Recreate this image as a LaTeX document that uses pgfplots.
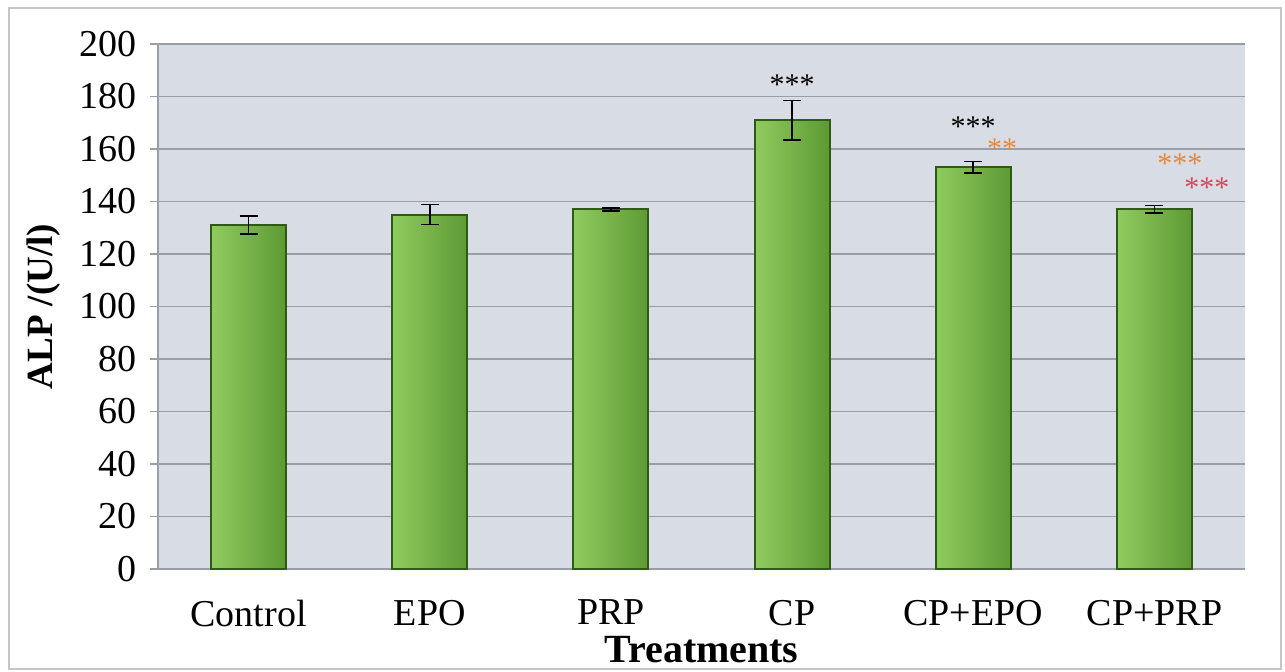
\documentclass[border=0pt]{standalone}
\usepackage{fontspec}
\setmainfont{Liberation Serif}
\usepackage{pgfplots}
\pgfplotsset{compat=1.18}
\definecolor{bgc}{HTML}{D8DCE5}
\definecolor{gridc}{HTML}{9A9EA6}
\definecolor{barL}{HTML}{8FCB5E}
\definecolor{barR}{HTML}{5E9A34}
\definecolor{barE}{HTML}{2E5A14}
\definecolor{orng}{HTML}{E8883A}
\definecolor{pinkr}{HTML}{D9475A}
\pgfplotsset{greenbar/.style={ybar, bar width=37.5pt, bar shift=0pt, draw=barE, line width=1pt,
  left color=barL, right color=barR,
  error bars/.cd, y dir=both, y explicit,
  error bar style={black, line width=0.8pt},
  error mark options={black, rotate=90, mark size=4.5pt, line width=0.8pt}}}
\tikzset{stars/.style={font=\fontsize{15}{15}\selectfont, inner sep=0pt, text height=7pt, text depth=0pt}}
\begin{document}
\begin{tikzpicture}[x=0.5pt,y=0.5pt]
\path[use as bounding box] (0,0) rectangle (1285,672);
\draw[gray!45, line width=1.2pt] (9,3) rectangle (1281,664);
\begin{axis}[
  at={(79pt,51.5pt)}, anchor=south west,
  width=543.5pt, height=262.5pt, scale only axis,
  xmin=-0.5, xmax=5.5, ymin=0, ymax=200,
  ytick={0,20,40,60,80,100,120,140,160,180,200},
  yticklabels={0,20,40,60,80,100,120,140,160,180,200},
  xtick={0,1,2,3,4,5},
  xticklabels={Control,EPO,PRP,CP,CP+EPO,CP+PRP},
  axis background/.style={fill=bgc},
  axis x line*=bottom, axis y line*=left,
  axis line style={gridc, line width=0.8pt, -},
  ymajorgrids, grid style={gridc, line width=0.8pt},
  x tick style={draw=none},
  y tick style={gridc, line width=0.8pt},
  tick align=outside, major tick length=4pt,
  ticklabel style={font=\fontsize{19}{19}\selectfont},
  yticklabel style={xshift=-3pt},
  xticklabel style={yshift=-8pt},
  ylabel={\bfseries ALP /(U/l)},
  ylabel style={font=\fontsize{18.5}{18.5}\selectfont, yshift=3pt},
  xlabel={\bfseries Treatments},
  xlabel style={font=\fontsize{20}{20}\selectfont, yshift=2pt},
  clip=false,
]
\addplot[greenbar] coordinates {(0,131) +- (0,3.5)};
\addplot[greenbar] coordinates {(1,135) +- (0,3.8)};
\addplot[greenbar] coordinates {(2,137) +- (0,0.6)};
\addplot[greenbar] coordinates {(3,171) +- (0,7.5)};
\addplot[greenbar] coordinates {(4,153) +- (0,2.2)};
\addplot[greenbar] coordinates {(5,137) +- (0,1.5)};
\node[stars] at (axis cs:3,183.5) {***};
\node[stars] at (axis cs:4,167.5) {***};
\node[stars, text=orng] at (axis cs:4.16,159) {**};
\node[stars, text=orng] at (axis cs:5.14,153.5) {***};
\node[stars, text=pinkr] at (axis cs:5.29,144) {***};
\end{axis}
\end{tikzpicture}
\end{document}
